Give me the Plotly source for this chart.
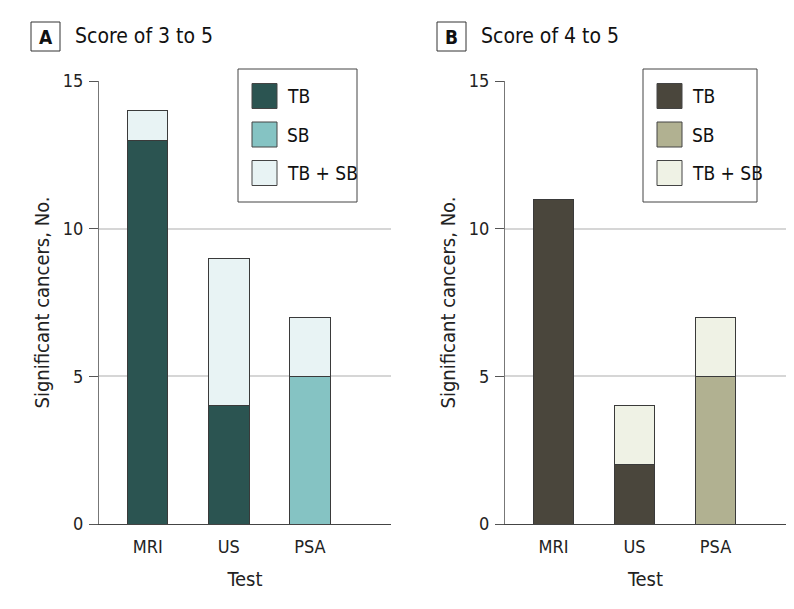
import plotly.graph_objects as go

# page is 794x609; body has 8px default margin, so the figure is 778x593 at (8, 8)
OFF = 8
W, H = 794 - 2 * OFF, 609 - 2 * OFF

tests = ["MRI", "US", "PSA"]
series_names = ["TB", "SB", "TB + SB"]

# Panel A: Score of 3 to 5
a_tb = [13, 4, 0]
a_sb = [0, 0, 5]
a_tbsb = [1, 5, 2]
# Panel B: Score of 4 to 5
b_tb = [11, 2, 0]
b_sb = [0, 0, 5]
b_tbsb = [0, 2, 2]

colors_a = ["#2b5451", "#85c3c3", "#e8f3f4"]
colors_b = ["#4a463c", "#b1b191", "#eff2e5"]

yticks = [0, 5, 10, 15]

FONT = "DejaVu Sans Condensed, Liberation Sans Narrow, DejaVu Sans, sans-serif"

def px(x):
    return min(1.0, max(0.0, (x - OFF) / W))

def py(y):
    return min(1.0, max(0.0, 1 - (y - OFF) / H))

fig = go.Figure()

xpos = list(range(len(tests)))
panels = [
    ("x", "y", [a_tb, a_sb, a_tbsb], colors_a),
    ("x2", "y2", [b_tb, b_sb, b_tbsb], colors_b),
]
for xa, ya, vals, cols in panels:
    for name, v, c in zip(series_names, vals, cols):
        fig.add_trace(go.Bar(
            x=xpos, y=v, name=name, xaxis=xa, yaxis=ya,
            marker=dict(color=c, line=dict(color="#3a3a3a", width=1)),
            width=0.5, showlegend=False,
        ))

axis_common_y = dict(
    range=[0, 15], tickvals=yticks, ticks="outside", ticklen=9, tickwidth=1,
    tickcolor="#555", showline=True, linecolor="#777", linewidth=1,
    showgrid=True, gridcolor="#d6d6d6", gridwidth=1.5, zeroline=False,
    automargin=False, ticklabelstandoff=2,
    tickfont=dict(size=18, family=FONT, color="#222"),
    title=dict(text="Significant cancers, No.", font=dict(size=20, family=FONT, color="#222"), standoff=7),
)
axis_common_x = dict(
    tickvals=xpos, ticktext=tests, showline=True, linecolor="#444", linewidth=1.2,
    showgrid=False, zeroline=False, ticks="", automargin=False,
    ticklabelstandoff=6,
    tickfont=dict(size=18, family=FONT, color="#222"),
    title=dict(text="Test", font=dict(size=20, family=FONT, color="#222"), standoff=16),
)

fig.update_layout(
    width=W, height=H, margin=dict(l=0, r=0, t=0, b=0, autoexpand=False),
    plot_bgcolor="white", paper_bgcolor="white", barmode="stack",
    xaxis=dict(domain=[px(99), px(391)], range=[-0.6, 3.0], anchor="y", **axis_common_x),
    yaxis=dict(domain=[py(524), py(81)], anchor="x", **axis_common_y),
    xaxis2=dict(domain=[px(505), px(786)], range=[-0.6, 2.87], anchor="y2", **axis_common_x),
    yaxis2=dict(domain=[py(524), py(81)], anchor="x2", **axis_common_y),
)

shapes = []
annotations = []

# Panel labels
for label, title, bx, tx in [("A", "Score of 3 to 5", 31, 73), ("B", "Score of 4 to 5", 437, 479)]:
    shapes.append(dict(type="rect", xref="paper", yref="paper",
                       x0=px(bx), x1=px(bx + 29), y0=py(51), y1=py(22),
                       line=dict(color="#333", width=1), fillcolor="white"))
    annotations.append(dict(text="<b>%s</b>" % label, xref="paper", yref="paper",
                            x=px(bx + 14.5), y=py(37), showarrow=False,
                            xanchor="center", yanchor="middle",
                            font=dict(size=19, family=FONT, color="#111")))
    annotations.append(dict(text=title, xref="paper", yref="paper",
                            x=px(tx), y=py(36), showarrow=False,
                            xanchor="left", yanchor="middle",
                            font=dict(size=21, family=FONT, color="#111")))

# Custom legends
for (lx0, lx1, sx, cols) in [(238, 357, 252, colors_a), (643, 757, 657, colors_b)]:
    shapes.append(dict(type="rect", xref="paper", yref="paper",
                       x0=px(lx0), x1=px(lx1), y0=py(202), y1=py(69),
                       line=dict(color="#444", width=1), fillcolor="white"))
    for i, (name, c) in enumerate(zip(series_names, cols)):
        cy = 96 + i * 38.5
        shapes.append(dict(type="rect", xref="paper", yref="paper",
                           x0=px(sx), x1=px(sx + 25), y0=py(cy + 12.5), y1=py(cy - 12.5),
                           line=dict(color="#444", width=1), fillcolor=c))
        annotations.append(dict(text=name, xref="paper", yref="paper",
                                x=px(sx + 33), y=py(cy), showarrow=False,
                                xanchor="left", yanchor="middle",
                                font=dict(size=19, family=FONT, color="#111")))

fig.update_layout(shapes=shapes, annotations=annotations)

fig.write_html("out.html")
